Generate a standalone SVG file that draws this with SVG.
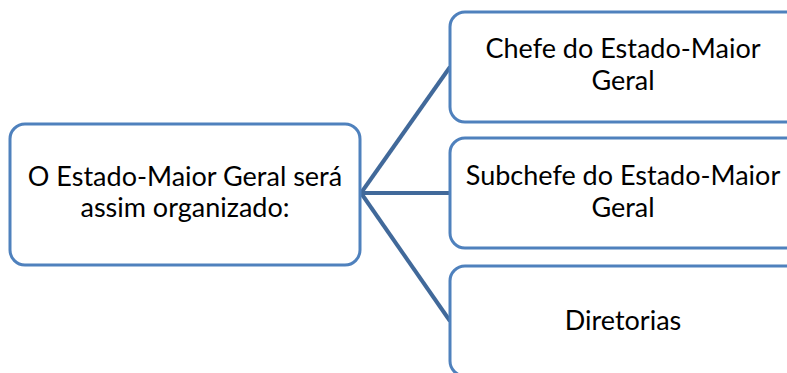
<svg xmlns="http://www.w3.org/2000/svg" width="787" height="373" viewBox="0 0 787 373">
<style>
.box{fill:#fff;stroke:#4F81BD;stroke-width:3}
.con{stroke:#41699A;stroke-width:4;fill:none}
text{font-family:Lato,"Liberation Sans",sans-serif;font-size:27px;fill:#000;text-anchor:middle}
</style>
<rect width="787" height="373" fill="#fff"/>
<g id="connectors">
<line class="con" x1="361" y1="193" x2="450" y2="67"/>
<line class="con" x1="361" y1="193" x2="450" y2="193"/>
<line class="con" x1="361" y1="193" x2="450" y2="321"/>
</g>
<g id="root">
<rect class="box" x="10" y="124" width="350" height="141" rx="15"/>
<text x="185" y="186">O Estado-Maior Geral será</text>
<text x="185" y="217">assim organizado:</text>
</g>
<g id="chefe">
<rect class="box" x="450" y="12" width="370" height="110" rx="15"/>
<text x="623" y="58">Chefe do Estado-Maior</text>
<text x="623" y="90">Geral</text>
</g>
<g id="subchefe">
<rect class="box" x="450" y="138" width="370" height="110" rx="15"/>
<text x="623" y="185">Subchefe do Estado-Maior</text>
<text x="623" y="217">Geral</text>
</g>
<g id="diretorias">
<rect class="box" x="450" y="266" width="370" height="110" rx="15"/>
<text x="623" y="330">Diretorias</text>
</g>
</svg>
